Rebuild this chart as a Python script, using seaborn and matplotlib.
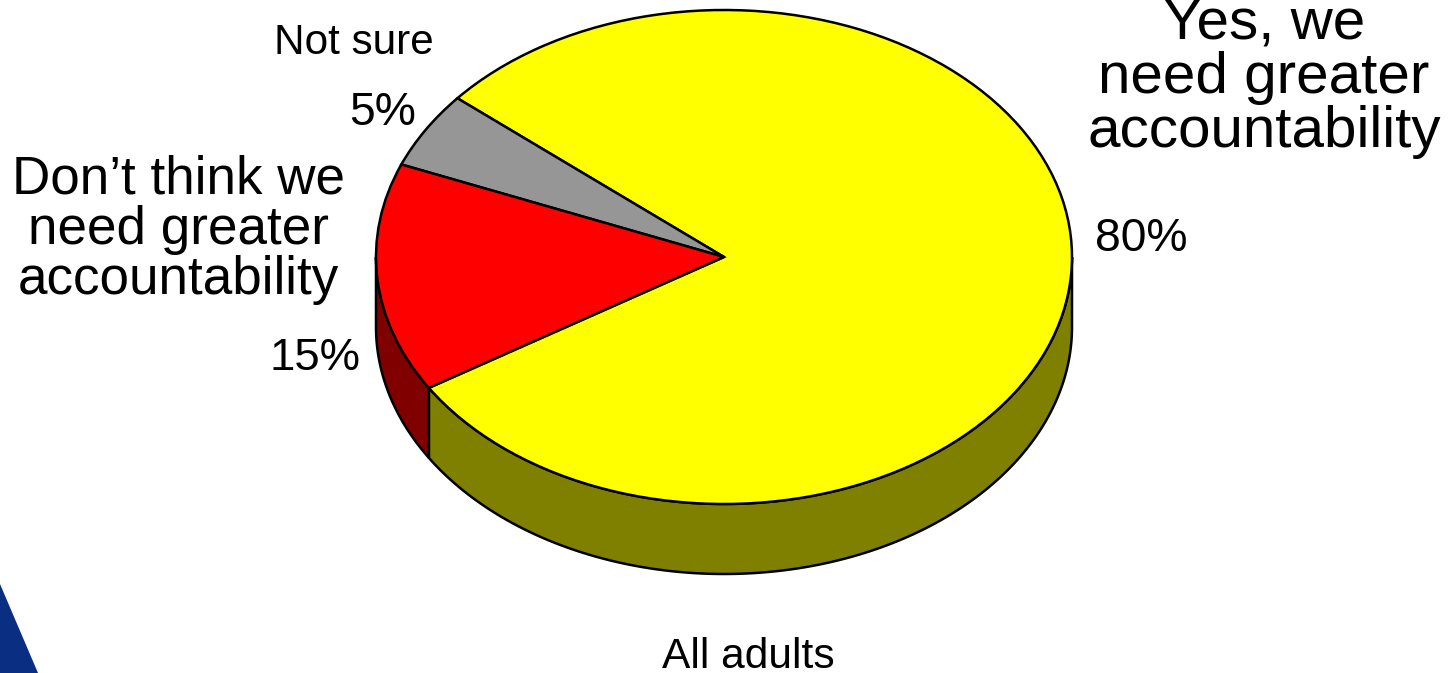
import numpy as np
import matplotlib
matplotlib.use("Agg")
import matplotlib.pyplot as plt
import seaborn as sns
from matplotlib.patches import Polygon

categories = ["Yes, we\nneed greater\naccountability", "Not sure", "Don\u2019t think we\nneed greater\naccountability"]
values = [80, 5, 15]
value_labels = ["80%", "5%", "15%"]
top_colors = ["#FFFF00", "#969696", "#FF0000"]
side_colors = ["#808000", "#4B4B4B", "#800000"]
footer = "All adults"

W, H = 1452, 673
CX, CY, RX, RY = 724, 257, 348, 247
DEPTH = 70 / RY
START = 212

sns.set_theme(style="white")
plt.rcParams["font.family"] = ["Liberation Sans", "DejaVu Sans"]

fig = plt.figure(figsize=(W / 100, H / 100), dpi=100)
ax = fig.add_axes([0, 0, 1, 1])

# extruded wall, from the same value shares, only for the front (lower) half
edges = START + np.concatenate([[0], np.cumsum(values)]) / sum(values) * 360
for a0, a1, col in zip(edges[:-1], edges[1:], side_colors):
    for k in (0, 360):
        lo, hi = max(a0, 180 + k), min(a1, 360 + k)
        if hi <= lo:
            continue
        t = np.radians(np.linspace(lo, hi, 200))
        x, y = np.cos(t), np.sin(t)
        pts = np.r_[np.c_[x, y], np.c_[x, y - DEPTH][::-1]]
        ax.add_patch(Polygon(pts, closed=True, facecolor=col, edgecolor="black", lw=1.8, zorder=1))

ax.pie(values, colors=top_colors, startangle=START, radius=1, center=(0, 0),
       wedgeprops=dict(edgecolor="black", linewidth=1.8, zorder=2))
ax.set_aspect("auto")
ax.set_xlim(-CX / RX, (W - CX) / RX)
ax.set_ylim(-(H - CY) / RY, CY / RY)
ax.axis("off")

# corner decoration of the slide
fig.add_artist(Polygon([(0, (H - 584) / H), (38 / W, 0), (0, 0)], closed=True,
                       transform=fig.transFigure, facecolor="#0A2F82", edgecolor="none"))

def put(px, py, s, size, ls=1.0):
    fig.text(px / W, 1 - py / H, s, fontsize=size, ha="center", va="center",
             color="black", linespacing=ls, multialignment="center")

put(1264, 78, categories[0], 42, 1.0)
put(178, 230, categories[2], 38.2, 1.0)
put(354, 42.5, categories[1], 30.4)
put(1141, 239, value_labels[0], 33.3)
put(383, 113, value_labels[1], 33.3)
put(315, 359, value_labels[2], 32.7)
put(748, 657, footer, 30.6)

fig.savefig("out.png", dpi=100)
